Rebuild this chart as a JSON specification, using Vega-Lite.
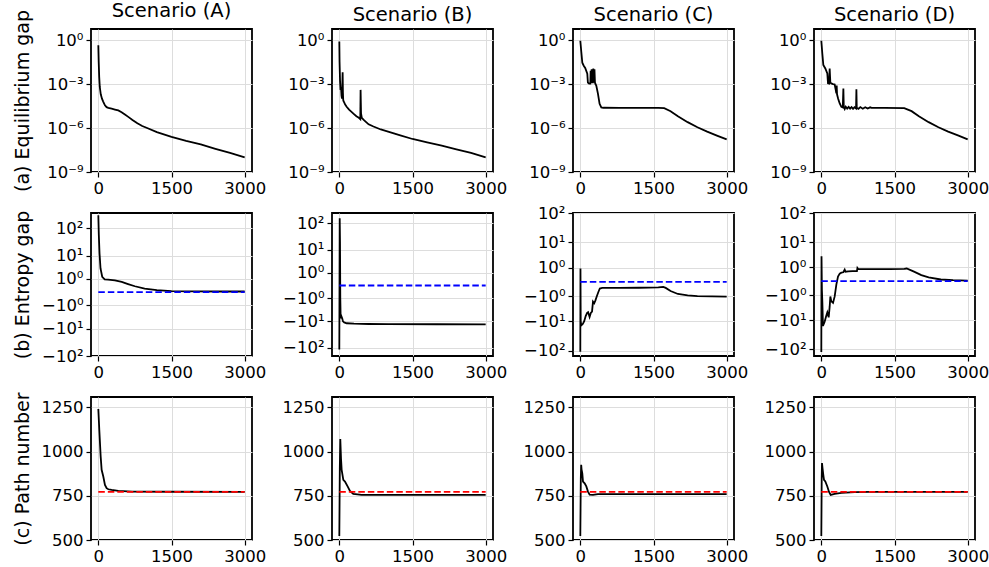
{
"$schema":"https://vega.github.io/schema/vega-lite/v6.json",
"background":"white",
"padding":{"left":12,"top":0,"right":2,"bottom":2},
"bounds":"flush",
"columns":4,
"spacing":{"row":41,"column":80},
"datasets":{
"ga":[
{"s":"A","x":0,"y":0.447},{"s":"A","x":8,"y":0.0316},{"s":"A","x":18,"y":0.00316},{"s":"A","x":30,"y":0.000631},{"s":"A","x":50,"y":0.0002},{"s":"A","x":75,"y":0.0001},{"s":"A","x":100,"y":6.31e-5},{"s":"A","x":136,"y":3.55e-5},{"s":"A","x":170,"y":2.63e-5},{"s":"A","x":205,"y":2.34e-5},{"s":"A","x":273,"y":2.09e-5},{"s":"A","x":341,"y":1.82e-5},{"s":"A","x":409,"y":1.58e-5},{"s":"A","x":477,"y":1.2e-5},{"s":"A","x":545,"y":8.32e-6},{"s":"A","x":614,"y":5.75e-6},{"s":"A","x":700,"y":3.55e-6},{"s":"A","x":800,"y":2.09e-6},{"s":"A","x":900,"y":1.38e-6},{"s":"A","x":1000,"y":1e-6},{"s":"A","x":1200,"y":5.25e-7},{"s":"A","x":1500,"y":2.51e-7},{"s":"A","x":1800,"y":1.32e-7},{"s":"A","x":2100,"y":7.59e-8},{"s":"A","x":2400,"y":3.8e-8},{"s":"A","x":2700,"y":2e-8},{"s":"A","x":3000,"y":1e-8},
{"s":"B","x":0,"y":0.794},{"s":"B","x":5,"y":0.0316},{"s":"B","x":15,"y":0.00158},{"s":"B","x":25,"y":0.000398},{"s":"B","x":35,"y":0.000631},{"s":"B","x":45,"y":0.000158},{"s":"B","x":55,"y":0.0001},{"s":"B","x":62,"y":0.001},{"s":"B","x":68,"y":0.00631},{"s":"B","x":74,"y":0.000251},{"s":"B","x":80,"y":7.94e-5},{"s":"B","x":90,"y":6.31e-5},{"s":"B","x":100,"y":5.62e-5},{"s":"B","x":120,"y":3.98e-5},{"s":"B","x":150,"y":2.82e-5},{"s":"B","x":200,"y":1.78e-5},{"s":"B","x":250,"y":1.26e-5},{"s":"B","x":300,"y":8.91e-6},{"s":"B","x":350,"y":6.31e-6},{"s":"B","x":400,"y":5.01e-6},{"s":"B","x":430,"y":3.98e-6},{"s":"B","x":436,"y":0.000398},{"s":"B","x":445,"y":1e-5},{"s":"B","x":460,"y":5.01e-6},{"s":"B","x":500,"y":3.55e-6},{"s":"B","x":600,"y":1.78e-6},{"s":"B","x":700,"y":1.26e-6},{"s":"B","x":850,"y":7.94e-7},{"s":"B","x":1000,"y":5.62e-7},{"s":"B","x":1250,"y":3.16e-7},{"s":"B","x":1500,"y":1.78e-7},{"s":"B","x":1800,"y":1.05e-7},{"s":"B","x":2100,"y":6.31e-8},{"s":"B","x":2400,"y":3.55e-8},{"s":"B","x":2700,"y":2e-8},{"s":"B","x":3000,"y":1e-8},
{"s":"C","x":0,"y":0.891},{"s":"C","x":20,"y":0.158},{"s":"C","x":41,"y":0.0282},{"s":"C","x":70,"y":0.0178},{"s":"C","x":100,"y":0.0126},{"s":"C","x":143,"y":0.00501},{"s":"C","x":155,"y":0.00126},{"s":"C","x":180,"y":0.00107},{"s":"C","x":205,"y":0.00107},{"s":"C","x":212,"y":0.00794},{"s":"C","x":220,"y":0.00112},{"s":"C","x":232,"y":0.01},{"s":"C","x":240,"y":0.00126},{"s":"C","x":250,"y":0.00794},{"s":"C","x":258,"y":0.00112},{"s":"C","x":266,"y":0.0112},{"s":"C","x":275,"y":0.00126},{"s":"C","x":290,"y":0.01},{"s":"C","x":300,"y":0.00126},{"s":"C","x":310,"y":0.001},{"s":"C","x":327,"y":0.000794},{"s":"C","x":361,"y":0.000224},{"s":"C","x":395,"y":4.47e-5},{"s":"C","x":430,"y":2.51e-5},{"s":"C","x":470,"y":2.4e-5},{"s":"C","x":800,"y":2.34e-5},{"s":"C","x":1200,"y":2.34e-5},{"s":"C","x":1600,"y":2.34e-5},{"s":"C","x":1720,"y":2.24e-5},{"s":"C","x":1850,"y":1.41e-5},{"s":"C","x":2000,"y":6.31e-6},{"s":"C","x":2200,"y":2.51e-6},{"s":"C","x":2400,"y":1.12e-6},{"s":"C","x":2600,"y":5.62e-7},{"s":"C","x":2800,"y":3.02e-7},{"s":"C","x":3000,"y":1.66e-7},
{"s":"D","x":0,"y":0.891},{"s":"D","x":20,"y":0.126},{"s":"D","x":41,"y":0.02},{"s":"D","x":82,"y":0.0115},{"s":"D","x":123,"y":0.00525},{"s":"D","x":137,"y":0.00112},{"s":"D","x":160,"y":0.00107},{"s":"D","x":171,"y":0.0112},{"s":"D","x":185,"y":0.00126},{"s":"D","x":205,"y":0.0011},{"s":"D","x":240,"y":0.001},{"s":"D","x":274,"y":0.000933},{"s":"D","x":295,"y":0.000398},{"s":"D","x":308,"y":0.000229},{"s":"D","x":315,"y":0.000794},{"s":"D","x":322,"y":0.0002},{"s":"D","x":345,"y":0.0001},{"s":"D","x":377,"y":4.68e-5},{"s":"D","x":411,"y":2.75e-5},{"s":"D","x":440,"y":2.51e-5},{"s":"D","x":452,"y":0.000501},{"s":"D","x":460,"y":2.82e-5},{"s":"D","x":480,"y":2e-5},{"s":"D","x":500,"y":2.82e-5},{"s":"D","x":530,"y":2.09e-5},{"s":"D","x":560,"y":2.75e-5},{"s":"D","x":590,"y":2.09e-5},{"s":"D","x":620,"y":2.69e-5},{"s":"D","x":650,"y":2.04e-5},{"s":"D","x":680,"y":2.63e-5},{"s":"D","x":712,"y":2.19e-5},{"s":"D","x":719,"y":0.000447},{"s":"D","x":726,"y":2.4e-5},{"s":"D","x":760,"y":2e-5},{"s":"D","x":800,"y":2.69e-5},{"s":"D","x":850,"y":2.09e-5},{"s":"D","x":900,"y":2.63e-5},{"s":"D","x":950,"y":2.14e-5},{"s":"D","x":1000,"y":2.57e-5},{"s":"D","x":1030,"y":2.34e-5},{"s":"D","x":1300,"y":2.34e-5},{"s":"D","x":1700,"y":2.29e-5},{"s":"D","x":1850,"y":1.41e-5},{"s":"D","x":2000,"y":6.31e-6},{"s":"D","x":2200,"y":2.51e-6},{"s":"D","x":2400,"y":1.12e-6},{"s":"D","x":2600,"y":5.62e-7},{"s":"D","x":2800,"y":3.16e-7},{"s":"D","x":3000,"y":1.7e-7}
],
"gb":[
{"s":"A","x":0,"y":300},{"s":"A","x":10,"y":60},{"s":"A","x":25,"y":12},{"s":"A","x":45,"y":3.1},{"s":"A","x":80,"y":1.3},{"s":"A","x":130,"y":0.96},{"s":"A","x":200,"y":0.93},{"s":"A","x":340,"y":0.83},{"s":"A","x":480,"y":0.67},{"s":"A","x":610,"y":0.48},{"s":"A","x":750,"y":0.32},{"s":"A","x":950,"y":0.17},{"s":"A","x":1200,"y":0.09},{"s":"A","x":1500,"y":0.05},{"s":"A","x":2000,"y":0.035},{"s":"A","x":2500,"y":0.03},{"s":"A","x":3000,"y":0.03},
{"s":"B","x":0,"y":-115},{"s":"B","x":8,"y":150},{"s":"B","x":14,"y":20},{"s":"B","x":20,"y":-1},{"s":"B","x":26,"y":-5},{"s":"B","x":32,"y":-7.6},{"s":"B","x":45,"y":-6.5},{"s":"B","x":60,"y":-7.8},{"s":"B","x":75,"y":-10},{"s":"B","x":100,"y":-11},{"s":"B","x":150,"y":-11.8},{"s":"B","x":300,"y":-12.3},{"s":"B","x":600,"y":-12.6},{"s":"B","x":1000,"y":-12.8},{"s":"B","x":2000,"y":-12.9},{"s":"B","x":3000,"y":-13},
{"s":"C","x":0,"y":-110},{"s":"C","x":3,"y":0.9},{"s":"C","x":8,"y":-10},{"s":"C","x":20,"y":-14},{"s":"C","x":50,"y":-12.5},{"s":"C","x":80,"y":-10},{"s":"C","x":110,"y":-6.5},{"s":"C","x":140,"y":-5},{"s":"C","x":160,"y":-4.7},{"s":"C","x":190,"y":-7},{"s":"C","x":215,"y":-5},{"s":"C","x":240,"y":-4.5},{"s":"C","x":260,"y":-1.8},{"s":"C","x":285,"y":-2.1},{"s":"C","x":310,"y":-1.6},{"s":"C","x":340,"y":-1},{"s":"C","x":370,"y":-0.6},{"s":"C","x":400,"y":-0.34},{"s":"C","x":450,"y":-0.3},{"s":"C","x":800,"y":-0.3},{"s":"C","x":1200,"y":-0.29},{"s":"C","x":1600,"y":-0.27},{"s":"C","x":1700,"y":-0.24},{"s":"C","x":1750,"y":-0.3},{"s":"C","x":1850,"y":-0.52},{"s":"C","x":2000,"y":-0.78},{"s":"C","x":2200,"y":-0.93},{"s":"C","x":2400,"y":-1},{"s":"C","x":2700,"y":-1.05},{"s":"C","x":3000,"y":-1.08},
{"s":"D","x":0,"y":-124},{"s":"D","x":4,"y":3},{"s":"D","x":12,"y":-0.5},{"s":"D","x":21,"y":-2},{"s":"D","x":34,"y":-15.8},{"s":"D","x":68,"y":-11.3},{"s":"D","x":100,"y":-7},{"s":"D","x":123,"y":-5.2},{"s":"D","x":151,"y":-7.8},{"s":"D","x":172,"y":-3},{"s":"D","x":185,"y":-1.14},{"s":"D","x":205,"y":-1.9},{"s":"D","x":240,"y":-2.2},{"s":"D","x":274,"y":-1.14},{"s":"D","x":308,"y":-0.15},{"s":"D","x":342,"y":0.22},{"s":"D","x":377,"y":0.4},{"s":"D","x":411,"y":0.47},{"s":"D","x":450,"y":0.5},{"s":"D","x":479,"y":0.72},{"s":"D","x":495,"y":0.55},{"s":"D","x":550,"y":0.58},{"s":"D","x":640,"y":0.6},{"s":"D","x":730,"y":0.6},{"s":"D","x":740,"y":0.9},{"s":"D","x":760,"y":0.77},{"s":"D","x":1000,"y":0.77},{"s":"D","x":1400,"y":0.77},{"s":"D","x":1700,"y":0.8},{"s":"D","x":1750,"y":0.84},{"s":"D","x":1900,"y":0.55},{"s":"D","x":2050,"y":0.3},{"s":"D","x":2200,"y":0.17},{"s":"D","x":2450,"y":0.07},{"s":"D","x":2700,"y":0.04},{"s":"D","x":3000,"y":0.02}
],
"gc":[
{"s":"A","x":0,"y":1241},{"s":"A","x":20,"y":1124},{"s":"A","x":48,"y":973},{"s":"A","x":68,"y":897},{"s":"A","x":102,"y":859},{"s":"A","x":136,"y":812},{"s":"A","x":170,"y":793},{"s":"A","x":205,"y":787},{"s":"A","x":273,"y":783},{"s":"A","x":409,"y":778},{"s":"A","x":700,"y":774},{"s":"A","x":1500,"y":773},{"s":"A","x":3000,"y":772},
{"s":"B","x":0,"y":523},{"s":"B","x":10,"y":900},{"s":"B","x":20,"y":1071},{"s":"B","x":35,"y":960},{"s":"B","x":48,"y":897},{"s":"B","x":82,"y":840},{"s":"B","x":116,"y":831},{"s":"B","x":170,"y":803},{"s":"B","x":218,"y":778},{"s":"B","x":286,"y":761},{"s":"B","x":457,"y":755},{"s":"B","x":1000,"y":755},{"s":"B","x":3000,"y":755},
{"s":"C","x":0,"y":523},{"s":"C","x":10,"y":850},{"s":"C","x":18,"y":925},{"s":"C","x":25,"y":900},{"s":"C","x":40,"y":878},{"s":"C","x":55,"y":831},{"s":"C","x":89,"y":821},{"s":"C","x":123,"y":803},{"s":"C","x":157,"y":774},{"s":"C","x":191,"y":757},{"s":"C","x":259,"y":755},{"s":"C","x":361,"y":760},{"s":"C","x":1000,"y":760},{"s":"C","x":3000,"y":760},
{"s":"D","x":0,"y":523},{"s":"D","x":8,"y":850},{"s":"D","x":14,"y":935},{"s":"D","x":25,"y":906},{"s":"D","x":40,"y":870},{"s":"D","x":55,"y":840},{"s":"D","x":82,"y":831},{"s":"D","x":123,"y":803},{"s":"D","x":158,"y":772},{"s":"D","x":192,"y":755},{"s":"D","x":274,"y":761},{"s":"D","x":411,"y":767},{"s":"D","x":685,"y":771},{"s":"D","x":1000,"y":772},{"s":"D","x":3000,"y":772}
],
"rb":[{"x":0,"y":0},{"x":3000,"y":0}],
"rc":[{"x":0,"y":772},{"x":3000,"y":772}]
},
"concat":[
{"width":161,"height":143,"title":{"text":"Scenario (A)","offset":-12},"data":{"name":"ga"},"transform":[{"filter":"datum.s==='A'"}],"mark":{"type":"line","color":"black","strokeWidth":1.8,"clip":true},
 "encoding":{"x":{"field":"x","type":"quantitative","scale":{"domain":[-150,3150],"nice":false,"zero":false},"axis":{"values":[0,1500,3000],"format":"d","title":null}},
 "y":{"field":"y","type":"quantitative","scale":{"type":"log","domain":[1e-9,5.65],"nice":false},"axis":{"values":[1,0.001,0.000001,1e-9],"labelExpr":"datum.value > 0.5 ? '10⁰' : datum.value > 5e-4 ? '10⁻³' : datum.value > 5e-7 ? '10⁻⁶' : '10⁻⁹'","title":"(a) Equilibrium gap","titleX":-63,"titleY":71.5,"titleAngle":270,"titleAlign":"center","titleBaseline":"alphabetic"}}}},
{"width":161,"height":143,"title":"Scenario (B)","data":{"name":"ga"},"transform":[{"filter":"datum.s==='B'"}],"mark":{"type":"line","color":"black","strokeWidth":1.8,"clip":true},
 "encoding":{"x":{"field":"x","type":"quantitative","scale":{"domain":[-150,3150],"nice":false,"zero":false},"axis":{"values":[0,1500,3000],"format":"d","title":null}},
 "y":{"field":"y","type":"quantitative","scale":{"type":"log","domain":[1e-9,5.65],"nice":false},"axis":{"values":[1,0.001,0.000001,1e-9],"labelExpr":"datum.value > 0.5 ? '10⁰' : datum.value > 5e-4 ? '10⁻³' : datum.value > 5e-7 ? '10⁻⁶' : '10⁻⁹'","title":null}}}},
{"width":161,"height":143,"title":"Scenario (C)","data":{"name":"ga"},"transform":[{"filter":"datum.s==='C'"}],"mark":{"type":"line","color":"black","strokeWidth":1.8,"clip":true},
 "encoding":{"x":{"field":"x","type":"quantitative","scale":{"domain":[-150,3150],"nice":false,"zero":false},"axis":{"values":[0,1500,3000],"format":"d","title":null}},
 "y":{"field":"y","type":"quantitative","scale":{"type":"log","domain":[1e-9,5.65],"nice":false},"axis":{"values":[1,0.001,0.000001,1e-9],"labelExpr":"datum.value > 0.5 ? '10⁰' : datum.value > 5e-4 ? '10⁻³' : datum.value > 5e-7 ? '10⁻⁶' : '10⁻⁹'","title":null}}}},
{"width":161,"height":143,"title":"Scenario (D)","data":{"name":"ga"},"transform":[{"filter":"datum.s==='D'"}],"mark":{"type":"line","color":"black","strokeWidth":1.8,"clip":true},
 "encoding":{"x":{"field":"x","type":"quantitative","scale":{"domain":[-150,3150],"nice":false,"zero":false},"axis":{"values":[0,1500,3000],"format":"d","title":null}},
 "y":{"field":"y","type":"quantitative","scale":{"type":"log","domain":[1e-9,5.65],"nice":false},"axis":{"values":[1,0.001,0.000001,1e-9],"labelExpr":"datum.value > 0.5 ? '10⁰' : datum.value > 5e-4 ? '10⁻³' : datum.value > 5e-7 ? '10⁻⁶' : '10⁻⁹'","title":null}}}},

{"width":161,"height":143,
 "encoding":{"x":{"field":"x","type":"quantitative","scale":{"domain":[-150,3150],"nice":false,"zero":false},"axis":{"values":[0,1500,3000],"format":"d","title":null}},
 "y":{"field":"y","type":"quantitative","scale":{"type":"symlog","constant":0.5,"domain":[-100,361],"nice":false,"zero":false},"axis":{"values":[100,10,1,-1,-10,-100],"labelExpr":"(datum.value < 0 ? '−' : '') + '10' + (abs(datum.value) > 50 ? '²' : abs(datum.value) > 5 ? '¹' : '⁰')","title":"(b) Entropy gap","titleX":-63,"titleY":71.5,"titleAngle":270,"titleAlign":"center","titleBaseline":"alphabetic"}}},
 "layer":[{"data":{"name":"gb"},"transform":[{"filter":"datum.s==='A'"}],"mark":{"type":"line","color":"black","strokeWidth":1.8,"clip":true}},
 {"data":{"name":"rb"},"mark":{"type":"line","color":"#0000ff","strokeWidth":1.8,"strokeDash":[6.5,3]}}]},
{"width":161,"height":143,
 "encoding":{"x":{"field":"x","type":"quantitative","scale":{"domain":[-150,3150],"nice":false,"zero":false},"axis":{"values":[0,1500,3000],"format":"d","title":null}},
 "y":{"field":"y","type":"quantitative","scale":{"type":"symlog","constant":0.5,"domain":[-198,235],"nice":false,"zero":false},"axis":{"values":[100,10,1,-1,-10,-100],"labelExpr":"(datum.value < 0 ? '−' : '') + '10' + (abs(datum.value) > 50 ? '²' : abs(datum.value) > 5 ? '¹' : '⁰')","title":null}}},
 "layer":[{"data":{"name":"gb"},"transform":[{"filter":"datum.s==='B'"}],"mark":{"type":"line","color":"black","strokeWidth":1.8,"clip":true}},
 {"data":{"name":"rb"},"mark":{"type":"line","color":"#0000ff","strokeWidth":1.8,"strokeDash":[6.5,3]}}]},
{"width":161,"height":143,
 "encoding":{"x":{"field":"x","type":"quantitative","scale":{"domain":[-150,3150],"nice":false,"zero":false},"axis":{"values":[0,1500,3000],"format":"d","title":null}},
 "y":{"field":"y","type":"quantitative","scale":{"type":"symlog","constant":0.5,"domain":[-152,100],"nice":false,"zero":false},"axis":{"values":[100,10,1,-1,-10,-100],"labelExpr":"(datum.value < 0 ? '−' : '') + '10' + (abs(datum.value) > 50 ? '²' : abs(datum.value) > 5 ? '¹' : '⁰')","title":null}}},
 "layer":[{"data":{"name":"gb"},"transform":[{"filter":"datum.s==='C'"}],"mark":{"type":"line","color":"black","strokeWidth":1.8,"clip":true}},
 {"data":{"name":"rb"},"mark":{"type":"line","color":"#0000ff","strokeWidth":1.8,"strokeDash":[6.5,3]}}]},
{"width":161,"height":143,
 "encoding":{"x":{"field":"x","type":"quantitative","scale":{"domain":[-150,3150],"nice":false,"zero":false},"axis":{"values":[0,1500,3000],"format":"d","title":null}},
 "y":{"field":"y","type":"quantitative","scale":{"type":"symlog","constant":0.5,"domain":[-168,100],"nice":false,"zero":false},"axis":{"values":[100,10,1,-1,-10,-100],"labelExpr":"(datum.value < 0 ? '−' : '') + '10' + (abs(datum.value) > 50 ? '²' : abs(datum.value) > 5 ? '¹' : '⁰')","title":null}}},
 "layer":[{"data":{"name":"gb"},"transform":[{"filter":"datum.s==='D'"}],"mark":{"type":"line","color":"black","strokeWidth":1.8,"clip":true}},
 {"data":{"name":"rb"},"mark":{"type":"line","color":"#0000ff","strokeWidth":1.8,"strokeDash":[6.5,3]}}]},

{"width":161,"height":143,
 "encoding":{"x":{"field":"x","type":"quantitative","scale":{"domain":[-150,3150],"nice":false,"zero":false},"axis":{"values":[0,1500,3000],"format":"d","title":null}},
 "y":{"field":"y","type":"quantitative","scale":{"domain":[500,1309],"nice":false,"zero":false},"axis":{"values":[500,750,1000,1250],"format":"d","title":"(c) Path number","titleX":-63,"titleY":71.5,"titleAngle":270,"titleAlign":"center","titleBaseline":"alphabetic"}}},
 "layer":[{"data":{"name":"gc"},"transform":[{"filter":"datum.s==='A'"}],"mark":{"type":"line","color":"black","strokeWidth":1.8,"clip":true}},
 {"data":{"name":"rc"},"mark":{"type":"line","color":"#ff0000","strokeWidth":1.8,"strokeDash":[6.5,3]}}]},
{"width":161,"height":143,
 "encoding":{"x":{"field":"x","type":"quantitative","scale":{"domain":[-150,3150],"nice":false,"zero":false},"axis":{"values":[0,1500,3000],"format":"d","title":null}},
 "y":{"field":"y","type":"quantitative","scale":{"domain":[500,1309],"nice":false,"zero":false},"axis":{"values":[500,750,1000,1250],"format":"d","title":null}}},
 "layer":[{"data":{"name":"gc"},"transform":[{"filter":"datum.s==='B'"}],"mark":{"type":"line","color":"black","strokeWidth":1.8,"clip":true}},
 {"data":{"name":"rc"},"mark":{"type":"line","color":"#ff0000","strokeWidth":1.8,"strokeDash":[6.5,3]}}]},
{"width":161,"height":143,
 "encoding":{"x":{"field":"x","type":"quantitative","scale":{"domain":[-150,3150],"nice":false,"zero":false},"axis":{"values":[0,1500,3000],"format":"d","title":null}},
 "y":{"field":"y","type":"quantitative","scale":{"domain":[500,1309],"nice":false,"zero":false},"axis":{"values":[500,750,1000,1250],"format":"d","title":null}}},
 "layer":[{"data":{"name":"gc"},"transform":[{"filter":"datum.s==='C'"}],"mark":{"type":"line","color":"black","strokeWidth":1.8,"clip":true}},
 {"data":{"name":"rc"},"mark":{"type":"line","color":"#ff0000","strokeWidth":1.8,"strokeDash":[6.5,3]}}]},
{"width":161,"height":143,
 "encoding":{"x":{"field":"x","type":"quantitative","scale":{"domain":[-150,3150],"nice":false,"zero":false},"axis":{"values":[0,1500,3000],"format":"d","title":null}},
 "y":{"field":"y","type":"quantitative","scale":{"domain":[500,1309],"nice":false,"zero":false},"axis":{"values":[500,750,1000,1250],"format":"d","title":null}}},
 "layer":[{"data":{"name":"gc"},"transform":[{"filter":"datum.s==='D'"}],"mark":{"type":"line","color":"black","strokeWidth":1.8,"clip":true}},
 {"data":{"name":"rc"},"mark":{"type":"line","color":"#ff0000","strokeWidth":1.8,"strokeDash":[6.5,3]}}]}
],
"config":{
 "font":"DejaVu Sans",
 "view":{"stroke":"black","strokeWidth":1.8},
 "axis":{"domain":false,"tickColor":"black","tickWidth":1.2,"tickSize":5,"labelColor":"black","labelFontSize":16.5,"labelFont":"DejaVu Sans","labelPadding":3.5,"labelFlush":false,"labelOverlap":false,"labelBound":false,"gridColor":"#dddddd","gridWidth":1,"titleFont":"DejaVu Sans","titleFontSize":19,"titleFontWeight":"normal","titleColor":"black"},
 "axisY":{"labelPadding":3},
 "title":{"fontSize":19.5,"fontWeight":"normal","font":"DejaVu Sans","color":"black","offset":4,"frame":"group"}
}
}
